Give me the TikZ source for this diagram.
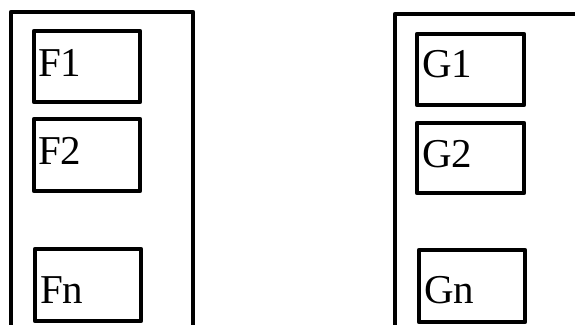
\documentclass[tikz,border=0pt]{standalone}
\usepackage{fontspec}
\setmainfont{Liberation Serif}
\begin{document}
\begin{tikzpicture}[x=1pt,y=1pt,
  box/.style={draw, line width=4.5pt, line join=round, inner sep=0pt, minimum width=106pt, minimum height=71pt},
  frame/.style={draw, line width=4.5pt, line join=round},
  lbl/.style={anchor=base west, inner sep=0pt, font=\fontsize{41}{48}\selectfont}]
\useasboundingbox (0,0) rectangle (575,324);
\clip (0,0) rectangle (575,324);
% outer frames
\coordinate (la) at (11,-10);
\coordinate (lb) at (11,312);
\coordinate (lc) at (193,312);
\coordinate (ld) at (193,-10);
\draw[frame] (la) -- (lb) -- (lc) -- (ld);
\coordinate (ra) at (395,-10);
\coordinate (rb) at (395,310);
\coordinate (rc) at (590,310);
\draw[frame] (ra) -- (rb) -- (rc);
% inner boxes
\node[box] (f1) at (87,257.5) {};
\node[box, minimum height=72pt] (f2) at (87,169) {};
\node[box, minimum height=72pt] (fn) at (88,39) {};
\node[box, minimum width=107pt] (g1) at (470.5,254.5) {};
\node[box, minimum width=107pt, minimum height=70pt] (g2) at (470.5,166) {};
\node[box, minimum height=72pt] (gn) at (472,38) {};
% labels
\node[lbl] (tf1) at (38,247.5) {F1};
\node[lbl] (tf2) at (38,159) {F2};
\node[lbl] (tfn) at (40,21) {Fn};
\node[lbl] (tg1) at (422,246) {G1};
\node[lbl] (tg2) at (422,156) {G2};
\node[lbl] (tgn) at (424,21) {Gn};
\end{tikzpicture}
\end{document}
